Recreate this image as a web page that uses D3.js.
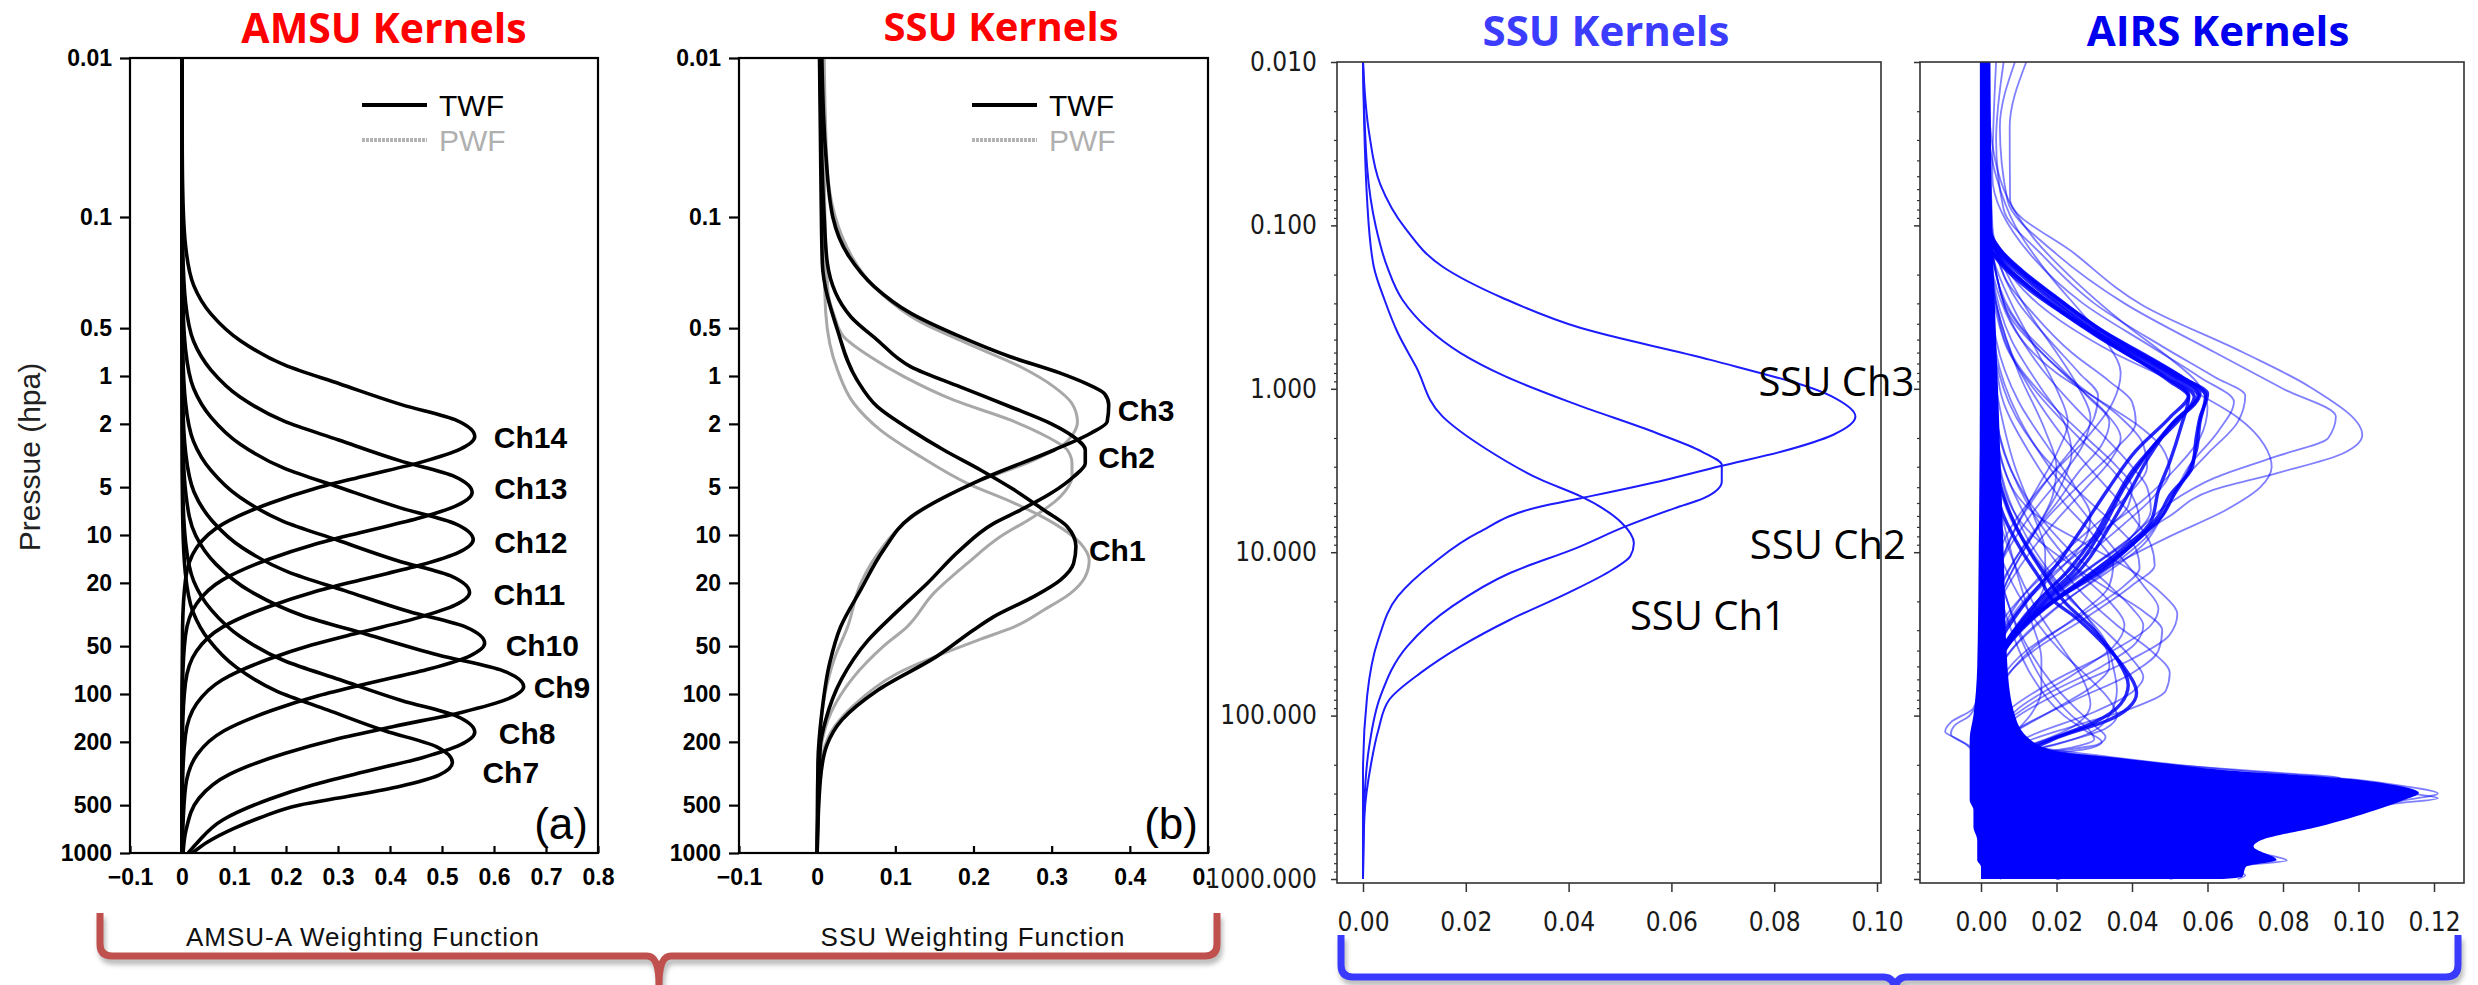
<!DOCTYPE html>
<html>
<head>
<meta charset="utf-8">
<script src="https://cdn.jsdelivr.net/npm/d3@7"></script>
<style>
body { margin: 0; background: #fff; }
svg { display: block; }
</style>
</head>
<body>
<svg id="chart" width="2478" height="985"></svg>
<script>
// ---- tick values ----
var pressureTicks = [0.01, 0.1, 0.5, 1, 2, 5, 10, 20, 50, 100, 200, 500, 1000];
var amsuXTicks = [-0.1, 0, 0.1, 0.2, 0.3, 0.4, 0.5, 0.6, 0.7, 0.8];
var ssuXTicks = [-0.1, 0, 0.1, 0.2, 0.3, 0.4, 0.5];
var kernelYTicks = [0.01, 0.1, 1, 10, 100, 1000];
var ssuKernelXTicks = [0, 0.02, 0.04, 0.06, 0.08, 0.10];
var airsXTicks = [0, 0.02, 0.04, 0.06, 0.08, 0.10, 0.12];

// ---- AMSU-A temperature weighting functions, [pressure hPa, weight] ----
var amsuCh14 = [[0.01,0],[0.04,0.0005],[0.076,0.0017],[0.151,0.0068],[0.269,0.0225],[0.408,0.056],[0.602,0.113],[0.852,0.197],[1.123,0.304],[1.514,0.422],[1.906,0.529],[2.4,0.563],[2.885,0.535],[3.468,0.462],[4.267,0.349],[5.131,0.253],[6.312,0.169],[8.515,0.079],[12.03,0.028],[19.06,0.0068],[38.04,0.0011],[100,0],[1000,0]];
var amsuCh13 = [[0.01,0],[0.08,0.0005],[0.171,0.0017],[0.341,0.0067],[0.605,0.0223],[0.918,0.0558],[1.355,0.1116],[1.917,0.1953],[2.527,0.3013],[3.407,0.4185],[4.288,0.5245],[5.4,0.558],[6.49,0.53],[7.8,0.458],[9.6,0.346],[11.55,0.251],[14.2,0.167],[19.16,0.078],[27.06,0.028],[42.88,0.0067],[85.6,0.0011],[200,0],[1000,0]];
var amsuCh12 = [[0.01,0],[0.15,0.0005],[0.338,0.0017],[0.675,0.0067],[1.198,0.0224],[1.819,0.056],[2.686,0.112],[3.8,0.196],[5.01,0.302],[6.75,0.42],[8.5,0.526],[10.7,0.56],[12.86,0.532],[15.46,0.459],[19.02,0.347],[22.88,0.252],[28.14,0.168],[37.96,0.078],[53.6,0.028],[85,0.0067],[169.6,0.0011],[400,0],[1000,0]];
var amsuCh11 = [[0.01,0],[0.3,0.0005],[0.727,0.0017],[1.451,0.0066],[2.576,0.0221],[3.91,0.0553],[5.77,0.1106],[8.17,0.1936],[10.76,0.2986],[14.51,0.4148],[18.26,0.5198],[23,0.553],[27.65,0.525],[33.2,0.453],[40.9,0.343],[49.2,0.249],[60.5,0.166],[81.6,0.077],[115.3,0.028],[182.6,0.0066],[364.6,0.0011],[1000,0]];
var amsuCh10 = [[0.01,0],[0.6,0.0005],[1.517,0.0017],[3.03,0.007],[5.38,0.0233],[8.16,0.0582],[12.05,0.1164],[17.04,0.2037],[22.46,0.3143],[30.29,0.4365],[38.11,0.5471],[48,0.582],[57.7,0.553],[69.4,0.477],[85.3,0.361],[102.6,0.262],[126.2,0.175],[170.3,0.081],[240.6,0.029],[381,0.007],[761,0.0012],[1000,0]];
var amsuCh9 = [[0.01,0],[1.2,0.0005],[2.84,0.002],[5.68,0.0079],[10.08,0.0263],[15.3,0.0657],[22.6,0.1314],[31.95,0.23],[42.1,0.3548],[56.8,0.4928],[71.5,0.6176],[90,0.657],[108.2,0.624],[130.1,0.539],[160,0.407],[192.4,0.296],[236.7,0.197],[319.3,0.092],[451,0.033],[714.6,0.0079],[1000,0.002]];
var amsuCh8 = [[0.01,0],[2.5,0.0005],[5.5,0.0017],[10.98,0.0068],[19.49,0.0225],[29.6,0.0563],[43.7,0.1126],[61.8,0.197],[81.4,0.304],[109.8,0.422],[138.2,0.529],[174,0.563],[209.1,0.535],[251.4,0.462],[309.4,0.349],[372,0.253],[457.6,0.169],[617.4,0.079],[872,0.028],[1000,0.012]];
var amsuCh7 = [[0.01,0],[4,0.0005],[8.53,0.0016],[17.04,0.0062],[30.2,0.0208],[45.9,0.052],[67.8,0.104],[95.9,0.182],[126.4,0.281],[170.4,0.39],[214.4,0.489],[270,0.52],[324,0.494],[380,0.42],[440,0.32],[500,0.225],[600,0.15],[700,0.1],[850,0.05],[1000,0.02]];
var amsuNames = ["Ch14", "Ch13", "Ch12", "Ch11", "Ch10", "Ch9", "Ch8", "Ch7"];

// ---- SSU weighting functions (TWF black, PWF grey) ----
var ssuTwfCh3 = [[0.01,0.006],[0.04,0.011],[0.1,0.02],[0.178,0.041],[0.274,0.073],[0.404,0.12],[0.566,0.183],[0.757,0.247],[0.96,0.311],[1.11,0.343],[1.3,0.368],[1.52,0.373],[1.94,0.371],[2.29,0.35],[2.92,0.303],[4.5,0.209],[7.7,0.12],[12.4,0.085],[22,0.056],[37.8,0.03],[64,0.016],[131,0.006],[270,0.001],[1000,0]];
var ssuTwfCh2 = [[0.01,0.004],[0.044,0.006],[0.1,0.009],[0.195,0.013],[0.424,0.043],[0.594,0.077],[0.875,0.12],[1.17,0.183],[1.56,0.247],[1.99,0.299],[2.41,0.328],[2.92,0.343],[3.54,0.343],[4.3,0.328],[5.47,0.299],[6.97,0.26],[8.45,0.226],[12.4,0.183],[20.1,0.141],[31,0.1],[46,0.065],[81,0.031],[145,0.011],[213,0.004],[1000,0]];
var ssuTwfCh1 = [[0.01,0.003],[0.07,0.005],[0.195,0.0066],[0.514,0.026],[1.06,0.051],[1.56,0.077],[2.19,0.12],[2.92,0.162],[3.9,0.209],[5.2,0.252],[6.97,0.29],[8.87,0.32],[11.8,0.331],[15.1,0.328],[19.2,0.311],[24.4,0.277],[32.6,0.226],[39.6,0.2],[58,0.153],[95,0.077],[145,0.032],[213,0.012],[350,0.004],[1000,0]];
var ssuPwfCh3 = [[0.01,0.009],[0.05,0.013],[0.18,0.045],[0.3,0.081],[0.445,0.128],[0.624,0.192],[0.875,0.26],[1.17,0.303],[1.49,0.326],[1.94,0.333],[2.29,0.328],[2.79,0.311],[3.38,0.277],[4.73,0.2],[6.3,0.149],[8.45,0.111],[12.4,0.081],[20,0.056],[37.8,0.039],[60,0.022],[100,0.01],[200,0.003],[1000,0]];
var ssuPwfCh2 = [[0.01,0.008],[0.05,0.009],[0.15,0.011],[0.3,0.014],[0.42,0.022],[0.566,0.034],[0.757,0.068],[1.01,0.111],[1.42,0.175],[1.89,0.247],[2.41,0.294],[2.92,0.32],[3.54,0.326],[4.3,0.326],[5.74,0.311],[7.67,0.277],[10.2,0.235],[15.1,0.192],[23.3,0.149],[37.8,0.115],[50,0.085],[80,0.045],[130,0.018],[200,0.006],[400,0],[1000,0]];
var ssuPwfCh1 = [[0.01,0.007],[0.1,0.008],[0.2,0.009],[0.404,0.011],[0.917,0.026],[1.49,0.047],[2.19,0.081],[3.21,0.132],[4.73,0.192],[6.3,0.252],[8.45,0.303],[11.3,0.337],[14.4,0.348],[18.3,0.343],[23.3,0.324],[29.6,0.29],[37.8,0.252],[45,0.21],[74,0.103],[120,0.045],[176,0.017],[300,0.004],[1000,0]];
var ssuNames = ["Ch3", "Ch2", "Ch1"];

// ---- SSU kernels (blue panel) ----
var ssuKernelCh3 = [[0.01,0],[0.0273,0.0012],[0.0565,0.0034],[0.104,0.0082],[0.179,0.0155],[0.279,0.0273],[0.425,0.0424],[0.665,0.0676],[1.11,0.0911],[1.48,0.0958],[1.91,0.0915],[2.42,0.0815],[2.98,0.0694],[3.6,0.059],[4.67,0.0424],[5.25,0.0346],[7.6,0.0224],[11.6,0.0138],[18.6,0.0068],[34,0.003],[76,0.0008],[230,0],[1000,0]];
var ssuKernelCh2 = [[0.01,0],[0.044,0.0008],[0.102,0.0025],[0.179,0.0047],[0.286,0.0077],[0.425,0.0125],[0.605,0.019],[0.84,0.0277],[1.25,0.0416],[1.87,0.0572],[2.42,0.0659],[2.93,0.0698],[3.69,0.0698],[4.67,0.0663],[5.37,0.0607],[6.95,0.0511],[9.4,0.0416],[13.4,0.0286],[21.4,0.0174],[37.7,0.0086],[76,0.0034],[155,0.0012],[330,0.0003],[1000,0]];
var ssuKernelCh1 = [[0.01,0],[0.07,0.0008],[0.179,0.0021],[0.286,0.0042],[0.457,0.0068],[0.73,0.0103],[1.48,0.0155],[2.36,0.0242],[3.6,0.0346],[4.56,0.0424],[6.6,0.0503],[8.8,0.0527],[10.6,0.052],[12.8,0.0485],[17.8,0.0398],[25.9,0.0286],[37.7,0.019],[54.8,0.0112],[80,0.0051],[122,0.003],[195,0.0016],[400,0.0003],[1000,0]];
var ssuKernelNames = ["SSU Ch3", "SSU Ch2", "SSU Ch1"];

// ---- AIRS kernels (representative curves) ----
var airsWide1 = [[0.01,0.012],[0.025,0.0076],[0.07,0.0077],[0.15,0.025],[0.31,0.043],[0.6,0.0695],[0.97,0.087],[1.92,0.101],[2.48,0.096],[3.3,0.078],[4.2,0.061],[6,0.05],[10,0.035],[20,0.017],[40,0.006],[80,0.001],[200,0]];
var airsWide2 = [[0.01,0.009],[0.025,0.005],[0.07,0.007],[0.15,0.02],[0.3,0.038],[0.6,0.062],[1.0,0.08],[1.48,0.094],[2.0,0.092],[2.6,0.078],[3.5,0.062],[5,0.05],[8,0.04],[15,0.024],[30,0.01],[60,0.003],[150,0]];
var airsWide3 = [[0.01,0.006],[0.03,0.004],[0.08,0.006],[0.15,0.016],[0.3,0.03],[0.55,0.048],[0.85,0.062],[1.1,0.07],[1.6,0.068],[2.5,0.06],[4,0.052],[6,0.048],[9,0.043],[13,0.034],[20,0.022],[35,0.01],[70,0.002],[150,0]];
var airsWide4 = [[0.01,0.004],[0.05,0.003],[0.15,0.013],[0.3,0.027],[0.55,0.045],[0.85,0.058],[1.2,0.067],[1.8,0.063],[3,0.055],[5,0.05],[8,0.044],[13,0.033],[22,0.02],[40,0.008],[80,0.001]];
var airsWide5 = [[0.01,0.002],[0.1,0.003],[0.3,0.015],[0.6,0.035],[1,0.055],[1.5,0.068],[2.2,0.075],[3,0.077],[4,0.074],[5.5,0.065],[8,0.05],[12,0.035],[20,0.018],[40,0.005],[100,0]];
var airsBundle1 = [[0.01,0.001],[0.1,0.0015],[0.14,0.004],[0.19,0.0103],[0.27,0.0183],[0.44,0.0306],[0.64,0.043],[0.84,0.0518],[1.07,0.058],[1.7,0.05],[2.7,0.043],[4,0.038],[7.3,0.032],[13.5,0.024],[20,0.016],[30,0.009],[46,0.004],[80,0.001],[200,0]];
var airsBundle2 = [[0.01,0.001],[0.1,0.002],[0.14,0.005],[0.19,0.011],[0.27,0.0195],[0.44,0.032],[0.64,0.0445],[0.84,0.053],[1.1,0.0595],[1.6,0.058],[2.4,0.057],[3.2,0.055],[4.5,0.051],[6,0.048],[9,0.04],[13.5,0.031],[20,0.019],[30,0.01],[46,0.004],[100,0.001],[200,0]];
var airsBundle3 = [[0.01,0.001],[0.12,0.002],[0.17,0.006],[0.23,0.012],[0.33,0.021],[0.5,0.033],[0.7,0.044],[0.9,0.052],[1.12,0.0565],[1.5,0.053],[2.2,0.046],[3.2,0.04],[5,0.035],[8,0.03],[13,0.023],[20,0.015],[32,0.008],[50,0.003],[100,0.001],[200,0]];
var airsBundle4 = [[0.01,0.0005],[0.12,0.0015],[0.17,0.005],[0.25,0.013],[0.4,0.026],[0.6,0.038],[0.85,0.049],[1.1,0.055],[1.5,0.05],[2.4,0.041],[4,0.034],[7,0.027],[12,0.02],[20,0.012],[35,0.005],[70,0.001],[200,0]];
var airsBundle5 = [[0.01,0.001],[0.1,0.002],[0.15,0.006],[0.21,0.013],[0.3,0.022],[0.47,0.034],[0.66,0.045],[0.87,0.054],[1.07,0.06],[1.5,0.058],[2,0.057],[3,0.056],[4.5,0.05],[6,0.047],[9,0.04],[14,0.029],[22,0.017],[35,0.008],[60,0.002],[150,0]];
var airsBundle6 = [[0.1,0.001],[1,0.002],[3,0.003],[6,0.006],[10,0.011],[15,0.016],[19.6,0.019],[25,0.025],[32.9,0.0306],[50,0.0377],[73,0.0412],[90,0.039],[106,0.034],[134,0.021],[170,0.0103],[190,0.003],[250,0]];
var airsBundle7 = [[0.1,0.001],[1,0.002],[3,0.004],[6,0.008],[10,0.013],[15,0.018],[20,0.022],[30,0.03],[45,0.036],[65,0.039],[85,0.037],[110,0.03],[135,0.02],[165,0.01],[190,0.003],[250,0]];
var airsBundle8 = [[0.01,0.001],[0.11,0.0018],[0.15,0.0048],[0.2,0.0105],[0.29,0.019],[0.46,0.031],[0.66,0.0435],[0.86,0.052],[1.09,0.0575],[1.6,0.051],[2.6,0.0445],[4,0.04],[7,0.034],[13,0.026],[20,0.017],[30,0.01],[46,0.004],[90,0.001],[200,0]];
var airsBundle9 = [[0.01,0.001],[0.13,0.002],[0.17,0.0055],[0.22,0.011],[0.31,0.019],[0.48,0.031],[0.68,0.042],[0.9,0.05],[1.12,0.055],[1.7,0.053],[2.8,0.05],[4.2,0.047],[6.5,0.045],[9,0.039],[13,0.03],[20,0.019],[30,0.01],[46,0.004],[90,0.001],[200,0]];
var airsMesh1 = [[0.05,0.001],[0.2,0.004],[0.4,0.01],[0.7,0.02],[1.1,0.028],[1.6,0.034],[2.2,0.032],[3.2,0.026],[5,0.02],[8,0.013],[15,0.006],[40,0.001]];
var airsMesh2 = [[0.05,0.001],[0.25,0.005],[0.5,0.013],[0.9,0.024],[1.4,0.033],[2.0,0.037],[2.8,0.034],[4,0.028],[6,0.021],[10,0.013],[20,0.005],[50,0.001]];
var airsMesh3 = [[0.05,0.001],[0.3,0.006],[0.6,0.016],[1,0.027],[1.5,0.037],[2.2,0.043],[3,0.044],[4.2,0.04],[6,0.033],[10,0.022],[20,0.01],[50,0.002]];
var airsMesh4 = [[0.1,0.001],[0.5,0.006],[1,0.014],[2,0.026],[3,0.034],[4.5,0.04],[6.5,0.042],[9,0.038],[14,0.028],[25,0.014],[50,0.004],[100,0.001]];
var airsMesh5 = [[0.1,0.001],[0.4,0.008],[0.8,0.02],[1.2,0.032],[1.7,0.042],[2.3,0.048],[3.2,0.05],[4.5,0.046],[7,0.037],[12,0.025],[25,0.011],[60,0.002]];
var airsMesh6 = [[0.05,0.001],[0.3,0.006],[0.7,0.015],[1.3,0.025],[2,0.033],[3,0.04],[4,0.044],[5.5,0.045],[8,0.04],[12,0.03],[20,0.018],[35,0.008],[70,0.002],[150,0]];
var airsMesh7 = [[0.05,0.001],[0.4,0.005],[1,0.013],[2,0.022],[3.5,0.031],[6,0.04],[9,0.045],[12,0.046],[16,0.04],[25,0.028],[40,0.014],[70,0.004],[150,0]];
var airsMesh8 = [[0.1,0.001],[0.6,0.004],[1.5,0.01],[3,0.018],[6,0.028],[10,0.036],[16,0.043],[22,0.047],[28,0.045],[40,0.035],[60,0.02],[90,0.008],[150,0.001]];
var airsMesh9 = [[0.2,0.001],[2,0.004],[5,0.01],[10,0.018],[18,0.027],[28,0.036],[40,0.045],[55,0.05],[70,0.049],[90,0.04],[115,0.025],[150,0.01],[200,0.002]];
var airsMesh10 = [[0.2,0.001],[2,0.003],[6,0.008],[12,0.016],[22,0.026],[35,0.033],[50,0.035],[70,0.036],[100,0.034],[130,0.028],[150,0.02],[175,0.008],[210,0.001]];
var airsMesh11 = [[0.5,0.001],[3,0.006],[6,0.015],[9,0.028],[13,0.04],[18,0.048],[24,0.052],[32,0.05],[45,0.04],[65,0.025],[100,0.01],[150,0.002]];
var airsMesh12 = [[0.5,0.001],[4,0.006],[8,0.014],[12,0.024],[17,0.034],[23,0.043],[30,0.048],[40,0.047],[55,0.04],[80,0.025],[120,0.01],[180,0.002]];
var airsMesh13 = [[1,0.001],[10,0.004],[30,0.01],[60,0.018],[90,0.025],[115,0.03],[135,0.033],[150,0.031],[165,0.02],[180,0.008],[200,0.002]];
var airsMesh14 = [[1,0.001],[10,0.003],[30,0.008],[60,0.014],[100,0.022],[125,0.028],[145,0.032],[160,0.028],[175,0.015],[195,0.004]];
var airsMesh15 = [[0.05,0.001],[0.2,0.003],[0.5,0.008],[1,0.016],[1.6,0.022],[2.5,0.024],[4,0.021],[7,0.015],[15,0.007],[40,0.001]];
var airsMesh16 = [[0.1,0.001],[0.5,0.004],[1.2,0.01],[2.5,0.019],[4,0.025],[6,0.029],[8,0.028],[12,0.022],[20,0.012],[40,0.003],[100,0]];
var airsMesh17 = [[0.1,0.001],[1,0.005],[2.5,0.013],[5,0.022],[8,0.03],[12,0.035],[16,0.034],[24,0.026],[40,0.013],[80,0.003]];
var airsMesh18 = [[0.2,0.001],[1.5,0.004],[4,0.01],[8,0.018],[14,0.027],[20,0.034],[28,0.038],[38,0.035],[55,0.025],[90,0.01],[150,0.002]];
var airsMesh19 = [[0.3,0.001],[3,0.005],[8,0.012],[15,0.02],[25,0.028],[38,0.033],[50,0.034],[65,0.03],[90,0.02],[130,0.008],[180,0.001]];
var airsMesh20 = [[0.5,0.001],[5,0.004],[12,0.009],[25,0.016],[40,0.022],[60,0.027],[85,0.029],[110,0.026],[140,0.017],[170,0.006],[200,0.001]];
var airsMesh21 = [[1,0.001],[8,0.003],[20,0.007],[40,0.012],[70,0.018],[100,0.024],[125,0.029],[140,0.03],[155,0.025],[175,0.012],[200,0.002]];
var airsMesh22 = [[0.05,0.001],[0.15,0.004],[0.3,0.01],[0.5,0.018],[0.8,0.026],[1.1,0.031],[1.5,0.03],[2.2,0.025],[3.5,0.018],[6,0.011],[12,0.005],[30,0.001]];
var airsMesh23 = [[0.05,0.001],[0.2,0.006],[0.35,0.014],[0.6,0.024],[0.9,0.034],[1.2,0.04],[1.6,0.041],[2.3,0.036],[3.5,0.028],[6,0.018],[12,0.008],[30,0.001]];
var airsMesh24 = [[0.1,0.001],[0.6,0.008],[1.2,0.018],[2,0.028],[3,0.036],[4,0.04],[5.2,0.039],[7,0.034],[10,0.026],[18,0.013],[40,0.003]];
var airsMesh25 = [[0.2,0.001],[1,0.006],[2.5,0.016],[4.5,0.027],[7,0.036],[9.5,0.041],[12.5,0.042],[16,0.038],[24,0.027],[40,0.012],[80,0.002]];
var airsMesh26 = [[0.3,0.001],[2,0.005],[5,0.013],[10,0.024],[16,0.034],[22,0.04],[28,0.043],[36,0.041],[50,0.032],[75,0.017],[120,0.004]];
var airsMesh27 = [[0.5,0.001],[4,0.005],[10,0.013],[20,0.024],[32,0.034],[45,0.04],[58,0.043],[72,0.04],[95,0.03],[130,0.014],[180,0.002]];
var airsMesh28 = [[1,0.001],[8,0.004],[20,0.011],[40,0.021],[60,0.029],[80,0.034],[100,0.036],[120,0.033],[145,0.022],[175,0.008],[210,0.001]];
var airsMesh29 = [[0.02,0.001],[0.05,0.004],[0.1,0.009],[0.2,0.018],[0.35,0.027],[0.55,0.034],[0.8,0.037],[1.2,0.035],[2,0.028],[3.5,0.018],[7,0.008],[20,0.001]];
var airsMesh30 = [[0.02,0.002],[0.06,0.006],[0.12,0.014],[0.22,0.025],[0.4,0.038],[0.65,0.05],[0.9,0.057],[1.3,0.06],[2,0.058],[3,0.052],[5,0.042],[8,0.03],[15,0.015],[30,0.004],[60,0]];
var airsMesh31 = [[0.05,0.001],[0.12,0.003],[0.2,0.007],[0.35,0.013],[0.6,0.02],[1,0.026],[1.5,0.029],[2.2,0.027],[3.5,0.021],[6,0.013],[12,0.005],[30,0.001]];
var airsMesh32 = [[0.05,0.001],[0.15,0.003],[0.3,0.008],[0.6,0.015],[1,0.02],[1.6,0.023],[2.5,0.02],[4,0.015],[8,0.008],[20,0.002]];
var airsMesh33 = [[0.1,0.001],[0.3,0.004],[0.8,0.01],[1.8,0.017],[3,0.02],[4.5,0.019],[7,0.015],[12,0.009],[25,0.003],[60,0]];
var airsMesh34 = [[0.2,0.001],[1,0.004],[3,0.009],[6,0.014],[10,0.017],[15,0.017],[22,0.014],[35,0.008],[70,0.002]];
var airsMesh35 = [[0.5,0.001],[3,0.003],[10,0.008],[25,0.013],[45,0.016],[70,0.016],[100,0.013],[140,0.007],[190,0.001]];
var airsNeg1 = [[60,0],[90,-0.002],[110,-0.008],[125,-0.0095],[140,-0.006],[160,-0.002],[200,0]];
var airsNeg2 = [[70,0],[100,-0.003],[115,-0.007],[130,-0.008],[150,-0.004],[180,-0.001],[220,0]];
var airsTrop1 = [[30,0],[100,0.004],[150,0.012],[180,0.035],[215,0.066],[245,0.098],[270,0.112],[300,0.121],[330,0.112],[380,0.098],[480,0.08],[600,0.06],[800,0.04],[1000,0.02]];
var airsTrop2 = [[30,0],[100,0.004],[150,0.012],[180,0.03],[220,0.065],[260,0.1],[300,0.114],[320,0.121],[345,0.11],[400,0.09],[500,0.075],[700,0.05],[1000,0.02]];
var airsTrop3 = [[50,0],[150,0.005],[250,0.015],[400,0.03],[550,0.05],[650,0.065],[730,0.078],[770,0.081],[820,0.07],[900,0.06],[1000,0.05]];
var airsTrop4 = [[100,0],[300,0.01],[500,0.025],[700,0.045],[850,0.062],[950,0.07],[1000,0.068]];
var airsTrop5 = [[30,0],[120,0.005],[170,0.02],[200,0.05],[225,0.08],[240,0.095],[255,0.09],[290,0.075],[400,0.05],[700,0.02],[1000,0.005]];
// saturated region where thousands of curves overlap: [pressure, left, right]
var airsBody = [[0.01,-0.0003,0.0025],[0.1,-0.0003,0.003],[1,-0.0003,0.0045],[10,-0.0006,0.006],[50,-0.001,0.007],[100,-0.002,0.009],[140,-0.003,0.013],[165,-0.003,0.02],[178,-0.003,0.033],[195,-0.003,0.048],[215,-0.003,0.064],[240,-0.003,0.0945],[266,-0.003,0.1096],[298,-0.003,0.116],[329,-0.003,0.112],[378,-0.002,0.1046],[479,-0.002,0.0894],[578,-0.001,0.0743],[633,-0.001,0.0722],[765,-0.001,0.0783],[841,0,0.0702],[968,0,0.0692],[1000,0,0.064]];

var amsuTWF = [amsuCh14, amsuCh13, amsuCh12, amsuCh11, amsuCh10, amsuCh9, amsuCh8, amsuCh7];
var ssuTWF = [ssuTwfCh3, ssuTwfCh2, ssuTwfCh1];
var ssuPWF = [ssuPwfCh3, ssuPwfCh2, ssuPwfCh1];
var ssuKernels = [ssuKernelCh3, ssuKernelCh2, ssuKernelCh1];
var airsThin = [airsWide1, airsWide2, airsWide3, airsWide4, airsWide5,
  airsMesh1, airsMesh2, airsMesh3, airsMesh4, airsMesh5, airsMesh6, airsMesh7, airsMesh8, airsMesh9, airsMesh10,
  airsMesh11, airsMesh12, airsMesh13, airsMesh14, airsMesh15, airsMesh16, airsMesh17, airsMesh18, airsMesh19, airsMesh20,
  airsMesh21, airsMesh22, airsMesh23, airsMesh24, airsMesh25, airsMesh26, airsMesh27, airsMesh28, airsMesh29, airsMesh30,
  airsMesh31, airsMesh32, airsMesh33, airsMesh34, airsMesh35,
  airsNeg1, airsNeg2, airsTrop1, airsTrop2, airsTrop3, airsTrop4, airsTrop5];
var airsBundles = [airsBundle1, airsBundle2, airsBundle3, airsBundle4, airsBundle5, airsBundle6, airsBundle7, airsBundle8, airsBundle9];

var nclFont = "'Liberation Sans', Arial, sans-serif";
var narrowFont = "'Liberation Sans Narrow', 'DejaVu Sans Condensed', sans-serif";
var titleFont = "'Open Sans', 'Noto Sans', sans-serif";

var svg = d3.select("#chart");
svg.append("rect").attr("width", 2478).attr("height", 985).attr("fill", "#fff");
var defs = svg.append("defs");
defs.append("filter").attr("id", "shadow").attr("x", "-5%").attr("y", "-50%").attr("width", "110%").attr("height", "200%")
  .append("feGaussianBlur").attr("stdDeviation", 2.5);

function clip(id, x0, y0, x1, y1) {
  defs.append("clipPath").attr("id", id).append("rect")
    .attr("x", x0).attr("y", y0).attr("width", x1 - x0).attr("height", y1 - y0);
}
function peakOf(c) { return c.reduce(function(a, b) { return b[1] > a[1] ? b : a; }); }

// ===== panels (a) and (b): NCL style =====
var xA = d3.scaleLinear().domain([-0.1, 0.8]).range([130, 598]);
var yP = d3.scaleLog().domain([0.01, 1000]).range([58, 853]);
var xB = d3.scaleLinear().domain([-0.1, 0.5]).range([739, 1208]);

function nclPanel(x, xticks, curves, grey, names, labelDx, labelDy, tag, clipId) {
  var g = svg.append("g");
  var x0 = x.range()[0], x1 = x.range()[1];
  clip(clipId, x0, 58, x1, 853);
  var line = d3.line().x(function(d) { return x(d[1]); }).y(function(d) { return yP(d[0]); }).curve(d3.curveMonotoneY);
  var lines = g.append("g").attr("clip-path", "url(#" + clipId + ")");
  if (grey) {
    lines.selectAll(".pwf").data(grey).enter().append("path")
      .attr("d", line).attr("fill", "none").attr("stroke", "#a8a8a8").attr("stroke-width", 3);
  }
  lines.selectAll(".twf").data(curves).enter().append("path")
    .attr("d", line).attr("fill", "none").attr("stroke", "#000").attr("stroke-width", 3.6)
    .attr("stroke-linejoin", "round");

  g.append("rect").attr("x", x0).attr("y", 58).attr("width", x1 - x0).attr("height", 795)
    .attr("fill", "none").attr("stroke", "#000").attr("stroke-width", 2.2);

  var ya = g.append("g").attr("transform", "translate(" + x0 + ",0)")
    .call(d3.axisLeft(yP).tickValues(pressureTicks).tickFormat(d3.format("~g")).tickSize(10).tickPadding(8));
  var xa = g.append("g").attr("transform", "translate(0,853)")
    .call(d3.axisBottom(x).tickValues(xticks).tickFormat(d3.format("~g")).tickSize(-7));
  [ya, xa].forEach(function(a) {
    a.select(".domain").remove();
    a.selectAll("line").attr("stroke", "#000").attr("stroke-width", 2.2);
    a.selectAll("text").attr("font-family", nclFont).attr("font-weight", "bold")
      .attr("font-size", 23).attr("fill", "#000");
  });
  xa.selectAll("text").attr("y", 24).attr("dy", "0.35em");

  // channel labels beside each peak
  g.selectAll(".chl").data(curves).enter().append("text")
    .attr("x", function(d, i) { return x(peakOf(d)[1]) + labelDx[i]; })
    .attr("y", function(d, i) { return yP(peakOf(d)[0]) + labelDy[i]; })
    .attr("dy", "0.36em").attr("font-family", nclFont).attr("font-weight", "bold")
    .attr("font-size", 30).text(function(d, i) { return names[i]; });

  // legend
  var lx = x1 - 236;
  g.append("line").attr("x1", lx).attr("x2", lx + 65).attr("y1", 105).attr("y2", 105)
    .attr("stroke", "#000").attr("stroke-width", 4);
  g.append("line").attr("x1", lx).attr("x2", lx + 65).attr("y1", 140).attr("y2", 140)
    .attr("stroke", "#b4b4b4").attr("stroke-width", 4).attr("stroke-dasharray", "3,1");
  g.append("text").attr("x", lx + 77).attr("y", 116).attr("font-family", nclFont)
    .attr("font-size", 30).text("TWF");
  g.append("text").attr("x", lx + 77).attr("y", 151).attr("font-family", nclFont)
    .attr("font-size", 30).attr("fill", "#b0b0b0").text("PWF");

  g.append("text").attr("x", x1 - 10).attr("y", 823).attr("dy", "0.36em").attr("text-anchor", "end")
    .attr("font-family", nclFont).attr("font-size", 44).text(tag);
  return g;
}

nclPanel(xA, amsuXTicks, amsuTWF, null, amsuNames,
  [19, 22, 21, 24, 21, 10, 24, 30], [1, -4, 3, 2, 2, 0, 1, 10], "(a)", "clipA");
nclPanel(xB, ssuXTicks, ssuTWF, ssuPWF, ssuNames,
  [9, 13, 13], [5, 7, 4], "(b)", "clipB");

svg.append("text").attr("x", 29).attr("y", 457).attr("transform", "rotate(-90,29,457)")
  .attr("text-anchor", "middle").attr("dy", "0.35em").attr("font-family", nclFont)
  .attr("font-size", 30).attr("fill", "#222").text("Pressue  (hpa)");

// red titles
svg.append("text").attr("x", 384).attr("y", 43).attr("text-anchor", "middle").attr("font-family", titleFont)
  .attr("font-weight", "bold").attr("font-size", 41).attr("fill", "#ff0000").text("AMSU Kernels");
svg.append("text").attr("x", 1001).attr("y", 41).attr("text-anchor", "middle").attr("font-family", titleFont)
  .attr("font-weight", "bold").attr("font-size", 40).attr("fill", "#ff0000").text("SSU Kernels");

// ===== blue panels (matplotlib style) =====
var yK = d3.scaleLog().domain([0.01, 1000]).range([62, 879]);
var xS = d3.scaleLinear().domain([0, 0.1]).range([1363, 1877]);
var xR = d3.scaleLinear().domain([0, 0.12]).range([1981, 2434]);

// white sheet of the pasted figure hides the tail of panel (b)'s last label
svg.append("rect").attr("x", 1211).attr("y", 862).attr("width", 30).attr("height", 36).attr("fill", "#fff");

var minorTicks = [];
kernelYTicks.slice(0, -1).forEach(function(t) {
  for (var m = 2; m < 10; m++) minorTicks.push(t * m);
});

function mplPanel(x, x0, x1, xticks, labelsOnY, clipId) {
  var g = svg.append("g");
  clip(clipId, x0, 62, x1, 883);
  var ya = g.append("g").attr("transform", "translate(" + x0 + ",0)")
    .call(d3.axisLeft(yK).tickValues(kernelYTicks).tickFormat(labelsOnY ? d3.format(".3f") : "").tickSize(6).tickPadding(14));
  g.append("g").attr("transform", "translate(" + x0 + ",0)")
    .call(d3.axisLeft(yK).tickValues(minorTicks).tickFormat("").tickSize(3))
    .call(function(a) { a.select(".domain").remove(); a.selectAll("line").attr("stroke", "#333").attr("stroke-width", 1.2); });
  var xa = g.append("g").attr("transform", "translate(0,883)")
    .call(d3.axisBottom(x).tickValues(xticks).tickFormat(d3.format(".2f")).tickSize(9));
  [ya, xa].forEach(function(a) {
    a.select(".domain").remove();
    a.selectAll("line").attr("stroke", "#333").attr("stroke-width", 1.5);
    a.selectAll("text").attr("font-family", narrowFont).attr("font-size", 26).attr("fill", "#1a1a1a");
  });
  xa.selectAll("text").attr("y", 39).attr("dy", "0.35em");
  return g;
}

// SSU kernels panel
var ps = mplPanel(xS, 1337, 1881, ssuKernelXTicks, true, "clipS");
var lineS = d3.line().x(function(d) { return xS(d[1]); }).y(function(d) { return yK(d[0]); }).curve(d3.curveMonotoneY);
ps.append("g").attr("clip-path", "url(#clipS)").selectAll("path").data(ssuKernels).enter().append("path")
  .attr("d", lineS).attr("fill", "none").attr("stroke", "#1c1cff").attr("stroke-width", 2);
ps.append("rect").attr("x", 1337).attr("y", 62).attr("width", 544).attr("height", 821)
  .attr("fill", "none").attr("stroke", "#333").attr("stroke-width", 1.6);

// AIRS kernels panel
var pr = mplPanel(xR, 1920, 2464, airsXTicks, false, "clipR");
var lineR = d3.line().x(function(d) { return xR(d[1]); }).y(function(d) { return yK(d[0]); }).curve(d3.curveMonotoneY);
var areaR = d3.area().y(function(d) { return yK(d[0]); })
  .x0(function(d) { return xR(d[1]); }).x1(function(d) { return xR(d[2]); }).curve(d3.curveMonotoneY);
var airsG = pr.append("g").attr("clip-path", "url(#clipR)");
airsG.selectAll(".thin").data(airsThin).enter().append("path")
  .attr("d", lineR).attr("fill", "none").attr("stroke", "#0000ff").attr("stroke-opacity", 0.5).attr("stroke-width", 1.8);
airsG.selectAll(".bundle").data(airsBundles).enter().append("path")
  .attr("d", lineR).attr("fill", "none").attr("stroke", "#0000ff").attr("stroke-opacity", 0.85).attr("stroke-width", 3.4);
airsG.append("path").datum(airsBody).attr("d", areaR).attr("fill", "#0000ff");
pr.append("rect").attr("x", 1920).attr("y", 62).attr("width", 544).attr("height", 821)
  .attr("fill", "none").attr("stroke", "#333").attr("stroke-width", 1.6);

// SSU channel labels (they spill past the frame, as in the source)
var ssuLabelDx = [-97, 28, -4];
var ssuLabelDy = [-35, 80, 72];
svg.selectAll(".skl").data(ssuKernels).enter().append("text")
  .attr("x", function(d, i) { return xS(peakOf(d)[1]) + ssuLabelDx[i]; })
  .attr("y", function(d, i) { return yK(peakOf(d)[0]) + ssuLabelDy[i]; })
  .attr("dy", "0.36em").attr("font-family", titleFont).attr("font-size", 40).attr("fill", "#000")
  .text(function(d, i) { return ssuKernelNames[i]; });

// blue titles
svg.append("text").attr("x", 1606).attr("y", 46).attr("text-anchor", "middle").attr("font-family", titleFont)
  .attr("font-weight", "bold").attr("font-size", 42).attr("fill", "#3c3cff").text("SSU Kernels");
svg.append("text").attr("x", 2218).attr("y", 46).attr("text-anchor", "middle").attr("font-family", titleFont)
  .attr("font-weight", "bold").attr("font-size", 42).attr("fill", "#0000ee").text("AIRS Kernels");

// ===== braces at the bottom =====
function brace(x0, xm, x1, yTop, yBar, yTip, colour) {
  var r = 12;
  var d = "M" + x0 + "," + yTop + " V" + (yBar - r) + " Q" + x0 + "," + yBar + " " + (x0 + r) + "," + yBar +
    " H" + (xm - r) + " Q" + xm + "," + yBar + " " + xm + "," + yTip +
    " Q" + xm + "," + yBar + " " + (xm + r) + "," + yBar +
    " H" + (x1 - r) + " Q" + x1 + "," + yBar + " " + x1 + "," + (yBar - r) + " V" + yTop;
  svg.append("path").attr("d", d).attr("transform", "translate(2,5)").attr("fill", "none")
    .attr("stroke", "#888").attr("stroke-opacity", 0.6).attr("stroke-width", 7).attr("filter", "url(#shadow)");
  svg.append("path").attr("d", d).attr("fill", "none").attr("stroke", colour).attr("stroke-width", 7)
    .attr("stroke-linejoin", "round");
}
brace(100, 659, 1217, 913, 956, 985, "#c0504d");
brace(1341, 1895, 2458, 935, 977, 992, "#3a3aff");

svg.append("text").attr("x", 363).attr("y", 937).attr("dy", "0.35em").attr("text-anchor", "middle")
  .attr("font-family", nclFont).attr("font-size", 26).attr("letter-spacing", 1).attr("fill", "#111")
  .text("AMSU-A Weighting Function");
svg.append("text").attr("x", 973).attr("y", 937).attr("dy", "0.35em").attr("text-anchor", "middle")
  .attr("font-family", nclFont).attr("font-size", 26).attr("letter-spacing", 1).attr("fill", "#111")
  .text("SSU Weighting Function");
</script>
</body>
</html>
